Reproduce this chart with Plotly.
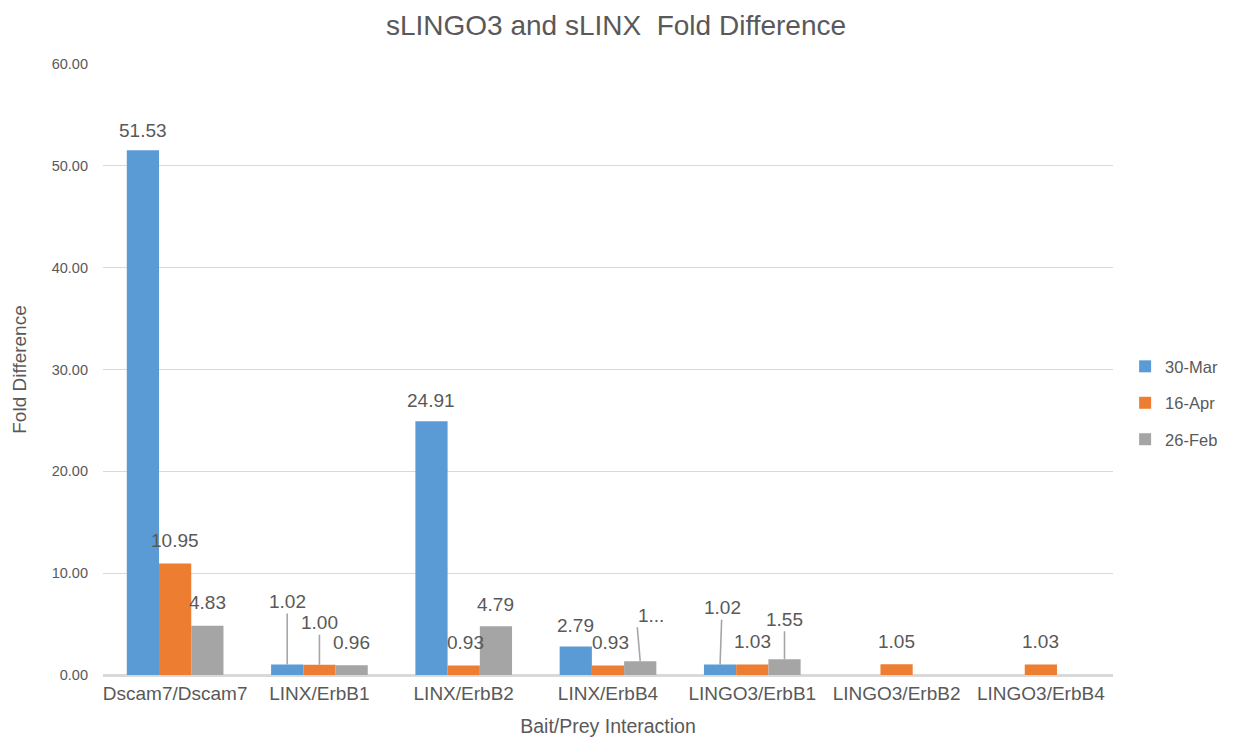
import plotly.graph_objects as go

categories = ["Dscam7/Dscam7", "LINX/ErbB1", "LINX/ErbB2", "LINX/ErbB4",
              "LINGO3/ErbB1", "LINGO3/ErbB2", "LINGO3/ErbB4"]
series_names = ["30-Mar", "16-Apr", "26-Feb"]
mar30 = [51.53, 1.02, 24.91, 2.79, 1.02, None, None]
apr16 = [10.95, 1.00, 0.93, 0.93, 1.03, 1.05, 1.03]
feb26 = [4.83, 0.96, 4.79, 1.35, 1.55, None, None]
mar30_labels = ["51.53", "1.02", "24.91", "2.79", "1.02", None, None]
apr16_labels = ["10.95", "1.00", "0.93", "0.93", "1.03", "1.05", "1.03"]
feb26_labels = ["4.83", "0.96", "4.79", "1...", "1.55", None, None]
y_ticks = [0, 10, 20, 30, 40, 50, 60]

colors = ["#5B9BD5", "#ED7D31", "#A5A5A5"]
TXT = "#595959"
FONT = "Liberation Sans, Arial, sans-serif"

# label placement: pixel offset of label centre above bar top, and x offset (style only)
offsets = [
    [20, 63, 21, 21, 57, 22, 22],
    [23, 42, 23, 23, 23, 23, 23],
    [23, 23, 22, 46, 40, 22, 22],
]
leaders = [
    [False, True, False, False, True, False, False],
    [False, True, False, False, False, False, False],
    [False, False, False, True, True, False, False],
]
xoffs = [
    [0, 0, 0, 0, 2, 0, 0],
    [0, 0, 2, 2, 0, 0, 0],
    [0, 0, 0, 0, 0, 0, 0],
]
anchors = [
    ["center"] * 7,
    ["center"] * 7,
    ["center", "center", "center", "left", "center", "center", "center"],
]

fig = go.Figure()
all_vals = [mar30, apr16, feb26]
all_labels = [mar30_labels, apr16_labels, feb26_labels]
for i, (name, vals) in enumerate(zip(series_names, all_vals)):
    fig.add_trace(go.Bar(x=categories, y=vals, name=name,
                         marker=dict(color=colors[i], line=dict(width=0)),
                         legendgroup=name))

# page has an 8px body margin, so the figure is sized/margined to compensate
W, H = 1229, 731
L, R, T, B = 95, 124, 55.5, 63.5
plot_w = W - L - R
gap = 0.33
bar_px = plot_w / len(categories) * (1 - gap) / 3
LAB = 19
annotations = []
for i in range(3):
    for j, cat in enumerate(categories):
        v = all_vals[i][j]
        lab = all_labels[i][j]
        if v is None or lab is None:
            continue
        xs = (i - 1) * bar_px
        if leaders[i][j]:
            annotations.append(dict(
                x=cat, y=v, xshift=xs, text=lab, showarrow=True,
                ax=xoffs[i][j] - (4 if anchors[i][j] == "left" else 0),
                ay=-offsets[i][j], arrowhead=0, arrowwidth=1.6,
                xanchor=anchors[i][j] if anchors[i][j] == "left" else "auto",
                arrowcolor="#A6A6A6", standoff=0, borderpad=1,
                font=dict(size=LAB, color=TXT, family=FONT)))
        else:
            annotations.append(dict(
                x=cat, y=v, xshift=xs + xoffs[i][j], yshift=offsets[i][j], text=lab,
                showarrow=False, yanchor="middle",
                font=dict(size=LAB, color=TXT, family=FONT)))

fig.update_layout(
    width=W, height=H,
    margin=dict(l=L, r=R, t=T, b=B, autoexpand=False),
    paper_bgcolor="white", plot_bgcolor="white",
    barmode="group", bargap=gap, bargroupgap=0,
    font=dict(family=FONT, color=TXT, size=15),
    title=dict(text="sLINGO3 and sLINX  Fold Difference", x=0.4947, xref="container",
               xanchor="center", y=0.977, yanchor="middle",
               font=dict(size=28, color=TXT)),
    xaxis=dict(title=dict(text="Bait/Prey Interaction", font=dict(size=19.5), standoff=17),
               tickfont=dict(size=19), showgrid=False, showline=True,
               linecolor="#D9D9D9", linewidth=1.5, ticks="", automargin=False),
    yaxis=dict(title=dict(text="Fold Difference", font=dict(size=19), standoff=20),
               range=[0, 60], tickvals=y_ticks, tickformat=".2f",
               tickfont=dict(size=14.5), showgrid=True, gridcolor="#D9D9D9",
               gridwidth=1.3, zeroline=True, zerolinecolor="#D9D9D9", ticks="",
               ticklabelstandoff=14, automargin=False),
    legend=dict(x=1.012, y=0.445, xanchor="left", yanchor="middle",
                font=dict(size=16.5, color=TXT), tracegroupgap=12,
                itemwidth=30),
    annotations=annotations,
    showlegend=True,
)

fig.write_html("out.html")
